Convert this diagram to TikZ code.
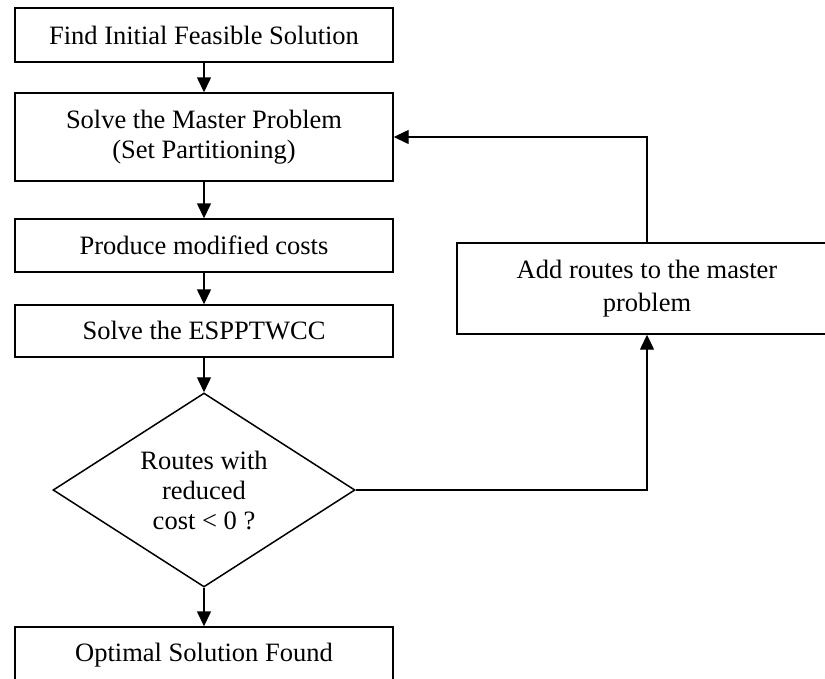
\documentclass[tikz,border=0pt]{standalone}
\usepackage{fontspec}
\setmainfont{Liberation Serif}
\usetikzlibrary{arrows.meta,shapes.geometric}
\begin{document}
\begin{tikzpicture}[x=1pt,y=-1pt,
  every node/.style={font=\fontsize{26.5}{30}\selectfont, align=center, inner sep=0pt},
  box/.style={draw, line width=1.4pt, minimum width=378pt},
  dec/.style={draw, diamond, line width=1.5pt, aspect=1.557, minimum width=302pt, minimum height=194pt},
  arr/.style={-{Triangle[length=15pt,width=14pt]}, line width=1.4pt}]
\useasboundingbox (0,0) rectangle (825,678);
\node[box, minimum height=54pt] (b1) at (204,35) {Find Initial Feasible Solution};
\node[box, minimum height=88pt] (b2) at (204,137) {Solve the Master Problem\\(Set Partitioning)};
\node[box, minimum height=53pt] (b3) at (204,245.5) {Produce modified costs};
\node[box, minimum height=52pt] (b4) at (204,331) {Solve the ESPPTWCC};
\node[dec] (d) at (204,490) {Routes with\\reduced\\cost < 0 ?};
\node[box, minimum height=56pt] (b5) at (204,655) {Optimal Solution Found};
\node[box, minimum width=380pt, minimum height=91pt, font=\fontsize{26.5}{33}\selectfont] (r) at (647,288.5) {Add routes to the master\\problem};
\draw[arr] (b1.south) -- (b2.north);
\draw[arr] (b2.south) -- (b3.north);
\draw[arr] (b3.south) -- (b4.north);
\draw[arr] (b4.south) -- (d.north);
\draw[arr] (d.south) -- (b5.north);
\draw[arr] (d.east) -| (r.south);
\draw[arr] (r.north) |- (b2.east);
\end{tikzpicture}
\end{document}
